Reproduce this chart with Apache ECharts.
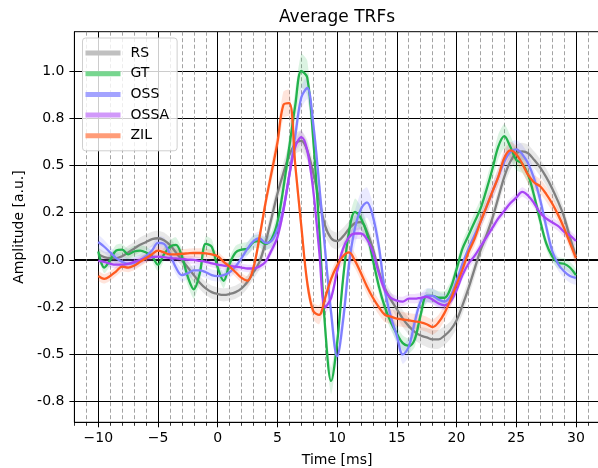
<!DOCTYPE html>
<html><head><meta charset="utf-8">
<script src="https://cdn.jsdelivr.net/npm/echarts@6/dist/echarts.min.js"></script>
<style>html,body{margin:0;padding:0;background:#fff}#c{width:598px;height:468px}</style>
</head><body><div id="c"></div>
<script>
// time axis (ms), 0.5 ms sampling
const timeMs = [
 -10,-9.5,-9,-8.5,-8,-7.5,-7,-6.5,-6,-5.5,
 -5,-4.5,-4,-3.5,-3,-2.5,-2,-1.5,-1,-0.5,
 0,0.5,1,1.5,2,2.5,3,3.5,4,4.5,
 5,5.5,6,6.5,7,7.5,8,8.5,9,9.5,
 10,10.5,11,11.5,12,12.5,13,13.5,14,14.5,
 15,15.5,16,16.5,17,17.5,18,18.5,19,19.5,
 20,20.5,21,21.5,22,22.5,23,23.5,24,24.5,
 25,25.5,26,26.5,27,27.5,28,28.5,29,29.5,30];

const seriesNames = ['RS','GT','OSS','OSSA','ZIL'];

const rsMean = [
 0.03,0.015,0.01,0.01,0.02,0.04,0.06,0.08,0.095,0.11,
 0.115,0.105,0.08,0.04,0.0,-0.04,-0.08,-0.12,-0.15,-0.17,
 -0.18,-0.185,-0.18,-0.17,-0.15,-0.115,-0.065,-0.01,0.09,0.22,
 0.35,0.46,0.555,0.615,0.63,0.58,0.46,0.32,0.18,0.115,
 0.1,0.125,0.165,0.195,0.2,0.15,0.06,-0.06,-0.15,-0.21,
 -0.26,-0.31,-0.35,-0.38,-0.4,-0.41,-0.42,-0.42,-0.4,-0.37,
 -0.32,-0.24,-0.15,-0.05,0.05,0.13,0.22,0.33,0.44,0.52,
 0.565,0.575,0.565,0.53,0.49,0.44,0.38,0.31,0.23,0.12,0.02];
const gtMean = [
 0.045,-0.04,0.0,0.05,0.055,0.03,0.045,0.05,0.04,0.02,
 -0.025,0.03,0.07,0.08,0.02,-0.09,-0.155,-0.07,0.085,0.07,
 -0.04,-0.11,-0.02,0.04,0.055,0.06,0.095,0.1,0.085,0.11,
 0.2,0.38,0.6,0.82,1.0,0.965,0.64,0.17,-0.36,-0.64,
 -0.44,-0.1,0.15,0.255,0.22,0.14,0.0,-0.14,-0.25,-0.33,
 -0.39,-0.44,-0.455,-0.42,-0.29,-0.19,-0.19,-0.2,-0.2,-0.15,
 -0.05,0.06,0.13,0.2,0.27,0.37,0.48,0.6,0.655,0.6,
 0.53,0.51,0.45,0.34,0.21,0.09,0.02,-0.015,-0.02,-0.04,-0.08];
const ossMean = [
 0.095,0.07,0.04,0.01,-0.01,-0.02,-0.015,0.0,0.02,0.05,
 0.09,0.085,0.03,-0.04,-0.08,-0.07,-0.055,-0.055,-0.065,-0.08,
 -0.085,-0.08,-0.065,-0.035,0.01,0.06,0.1,0.115,0.09,0.1,
 0.16,0.27,0.45,0.66,0.86,0.91,0.72,0.4,0.05,-0.28,
 -0.51,-0.32,-0.02,0.17,0.27,0.305,0.23,0.07,-0.16,-0.3,
 -0.4,-0.5,-0.46,-0.33,-0.22,-0.19,-0.19,-0.21,-0.22,-0.19,
 -0.11,-0.02,0.06,0.13,0.2,0.28,0.36,0.44,0.52,0.57,
 0.585,0.56,0.51,0.43,0.32,0.18,0.05,-0.02,-0.06,-0.085,-0.095];
const ossaMean = [
 -0.005,-0.01,-0.02,-0.025,-0.025,-0.02,-0.01,0.0,0.01,0.015,
 0.018,0.015,0.01,0.008,0.005,0.002,0.0,-0.005,-0.01,-0.018,
 -0.025,-0.03,-0.032,-0.035,-0.04,-0.045,-0.045,-0.035,-0.01,0.05,
 0.12,0.26,0.45,0.6,0.65,0.58,0.37,0.05,-0.25,-0.2,
 -0.06,0.06,0.12,0.14,0.14,0.11,0.04,-0.07,-0.16,-0.2,
 -0.215,-0.22,-0.205,-0.205,-0.2,-0.195,-0.21,-0.23,-0.24,-0.22,
 -0.16,-0.08,-0.02,0.02,0.07,0.12,0.17,0.22,0.26,0.3,
 0.33,0.36,0.34,0.3,0.25,0.22,0.2,0.18,0.15,0.13,0.1];
const zilMean = [
 -0.085,-0.1,-0.085,-0.06,-0.035,-0.04,-0.03,-0.01,0.01,0.03,
 0.05,0.04,0.03,0.03,0.033,0.035,0.037,0.037,0.035,0.03,
 0.02,-0.01,-0.035,-0.065,-0.095,-0.11,-0.04,0.12,0.3,0.46,
 0.62,0.82,0.83,0.5,0.18,-0.12,-0.27,-0.29,-0.2,-0.1,
 -0.03,0.02,0.04,-0.005,-0.07,-0.14,-0.2,-0.25,-0.29,-0.3,
 -0.31,-0.315,-0.32,-0.325,-0.33,-0.34,-0.355,-0.33,-0.28,-0.21,
 -0.13,-0.05,0.04,0.11,0.2,0.28,0.36,0.44,0.54,0.58,
 0.56,0.51,0.45,0.41,0.39,0.35,0.3,0.24,0.17,0.09,0.01];

// half-widths of the shaded error bands
const rsErr = [
 0.03,0.03,0.03,0.03,0.03,0.035,0.035,0.04,0.04,0.04,
 0.04,0.04,0.04,0.035,0.035,0.035,0.035,0.035,0.035,0.035,
 0.035,0.035,0.035,0.035,0.035,0.035,0.035,0.04,0.045,0.05,
 0.05,0.055,0.055,0.055,0.055,0.055,0.055,0.05,0.05,0.045,
 0.045,0.045,0.04,0.04,0.04,0.04,0.04,0.04,0.04,0.04,
 0.045,0.045,0.045,0.045,0.045,0.05,0.05,0.05,0.05,0.045,
 0.045,0.045,0.045,0.045,0.045,0.045,0.045,0.045,0.045,0.045,
 0.045,0.045,0.045,0.045,0.045,0.045,0.045,0.045,0.04,0.04,0.04];
const gtErr = [
 0.03,0.03,0.03,0.03,0.03,0.03,0.03,0.03,0.03,0.03,
 0.035,0.035,0.035,0.04,0.04,0.045,0.05,0.045,0.04,0.04,
 0.04,0.04,0.035,0.035,0.035,0.035,0.035,0.035,0.035,0.04,
 0.05,0.06,0.07,0.08,0.09,0.09,0.07,0.06,0.06,0.07,
 0.06,0.05,0.06,0.07,0.06,0.05,0.045,0.04,0.04,0.04,
 0.04,0.04,0.04,0.04,0.035,0.035,0.035,0.035,0.035,0.035,
 0.035,0.04,0.045,0.05,0.05,0.055,0.06,0.065,0.065,0.06,
 0.055,0.05,0.045,0.04,0.035,0.03,0.03,0.03,0.03,0.03,0.03];
const ossErr = [
 0.035,0.035,0.03,0.03,0.03,0.03,0.03,0.03,0.03,0.03,
 0.035,0.035,0.035,0.035,0.035,0.03,0.03,0.03,0.03,0.03,
 0.03,0.03,0.03,0.03,0.03,0.035,0.035,0.035,0.035,0.035,
 0.04,0.045,0.05,0.06,0.06,0.06,0.06,0.06,0.06,0.06,
 0.06,0.07,0.08,0.09,0.09,0.08,0.07,0.06,0.05,0.05,
 0.05,0.05,0.05,0.045,0.04,0.04,0.04,0.04,0.04,0.04,
 0.04,0.04,0.04,0.04,0.04,0.045,0.045,0.05,0.05,0.05,
 0.05,0.05,0.05,0.045,0.045,0.04,0.04,0.035,0.035,0.035,0.035];
const ossaErr = [
 0.02,0.02,0.02,0.02,0.02,0.02,0.02,0.02,0.02,0.02,
 0.02,0.02,0.02,0.02,0.02,0.02,0.02,0.02,0.02,0.02,
 0.02,0.02,0.02,0.02,0.02,0.02,0.02,0.02,0.025,0.025,
 0.03,0.03,0.035,0.035,0.035,0.035,0.03,0.03,0.03,0.03,
 0.03,0.03,0.03,0.03,0.03,0.025,0.025,0.025,0.025,0.025,
 0.025,0.025,0.025,0.025,0.025,0.025,0.025,0.025,0.025,0.025,
 0.025,0.025,0.025,0.025,0.025,0.025,0.025,0.025,0.025,0.025,
 0.025,0.025,0.025,0.025,0.025,0.025,0.025,0.025,0.025,0.025,0.025];
const zilErr = [
 0.025,0.025,0.025,0.025,0.025,0.025,0.025,0.025,0.025,0.025,
 0.025,0.025,0.025,0.025,0.025,0.025,0.025,0.025,0.025,0.025,
 0.025,0.025,0.025,0.025,0.025,0.025,0.025,0.03,0.04,0.05,
 0.06,0.07,0.07,0.06,0.05,0.045,0.045,0.05,0.045,0.04,
 0.04,0.04,0.04,0.04,0.04,0.04,0.04,0.04,0.04,0.04,
 0.04,0.04,0.04,0.04,0.04,0.04,0.04,0.04,0.04,0.04,
 0.04,0.04,0.04,0.04,0.04,0.045,0.045,0.045,0.045,0.045,
 0.045,0.045,0.045,0.04,0.04,0.04,0.04,0.035,0.035,0.035,0.035];

const xTickValues = [-10,-5,0,5,10,15,20,25,30];
const xTickLabels = ['\u221210','\u22125','0','5','10','15','20','25','30'];
const yTickValues = [-0.75,-0.5,-0.25,0,0.25,0.5,0.75,1.0];
const yTickLabels = ['-0.8','-0.5','-0.2','0.0','0.2','0.5','0.8','1.0'];

const lineColors = ['#808080','#22b24c','#7f7fff','#a845f5','#ff5a1f'];
const bandColors = ['rgba(128,128,128,0.18)','rgba(34,178,76,0.16)','rgba(127,127,255,0.16)','rgba(168,69,245,0.16)','rgba(255,90,31,0.16)'];
const legendColors = ['#c0c0c0','#77d68f','#a3a3ff','#d199fa','#ff9c78'];

const means = [rsMean, gtMean, ossMean, ossaMean, zilMean];
const errs = [rsErr, gtErr, ossErr, ossaErr, zilErr];

const FONT = 'DejaVu Sans';
function lookup(vals, labels, v){
  for (let i=0;i<vals.length;i++){ if (Math.abs(vals[i]-v) < 1e-6) return labels[i]; }
  return '';
}

const series = [];
seriesNames.forEach(function(name, k){
  const mean = means[k], err = errs[k];
  series.push({
    type:'custom', name: name + ' band', silent:true, z:2,
    xAxisIndex:0, yAxisIndex:0,
    data: timeMs.map(function(t,i){ return [t, mean[i]-err[i], mean[i]+err[i]]; }),
    encode:{x:0, y:[1,2]},
    renderItem: function(params, api){
      if (params.dataIndex !== 0) return null;
      const up = [], lo = [];
      for (let i=0;i<timeMs.length;i++){
        up.push(api.coord([timeMs[i], mean[i]+err[i]]));
        lo.push(api.coord([timeMs[i], mean[i]-err[i]]));
      }
      return {type:'polygon', shape:{points: up.concat(lo.reverse()), smooth:0.2},
              style:{fill: bandColors[k], stroke:'none'}};
    }
  });
  series.push({
    type:'line', name: name, z:2, silent:true, xAxisIndex:0, yAxisIndex:0,
    data: timeMs.map(function(t,i){ return [t, mean[i]]; }),
    showSymbol:false, symbol:'none', smooth:0.35,
    lineStyle:{width:2.3, color: lineColors[k]},
    itemStyle:{color: lineColors[k]}
  });
});

const chart = echarts.init(document.getElementById('c'), null, {renderer:'canvas'});
chart.setOption({
  animation:false,
  backgroundColor:'#fff',
  textStyle:{fontFamily: FONT},
  title:{text:'Average TRFs', left:337, top:9, textAlign:'center', padding:0,
         textStyle:{fontFamily:FONT, fontSize:17, fontWeight:'normal', color:'#000'}},
  legend:{
    orient:'vertical', left:82.5, top:38, padding:[8,8,8,3], itemGap:6.7,
    itemWidth:35, itemHeight:5, icon:'rect',
    backgroundColor:'rgba(255,255,255,0.8)', borderColor:'#cfcfcf', borderWidth:1, borderRadius:3,
    textStyle:{fontFamily:FONT, fontSize:14, color:'#000', padding:[0,0,0,5]},
    data: seriesNames.map(function(n,k){ return {name:n, itemStyle:{color: legendColors[k]}}; })
  },
  grid:{left:74.4, right:-1.8, top:31.7, bottom:45.7, containLabel:false, outerBoundsMode:'none',
        show:true, borderColor:'#000', borderWidth:1, backgroundColor:'transparent'},
  xAxis:[
    {type:'value', min:-12, max:32, interval:1, position:'bottom',
     axisLine:{show:true, onZero:false, lineStyle:{color:'#000', width:1}},
     axisTick:{show:true, length:3.5, lineStyle:{color:'#000', width:0.8}},
     axisLabel:{show:false},
     splitLine:{show:true, lineStyle:{color:'#8c8c8c', width:0.8, type:[4,2.5]}}},
    {type:'value', min:-12, max:32, position:'bottom',
     axisLine:{show:false, onZero:false},
     axisTick:{show:true, length:5, customValues: xTickValues, lineStyle:{color:'#000', width:1}},
     axisLabel:{show:true, customValues: xTickValues, margin:9, fontSize:14, color:'#000', fontFamily:FONT,
       formatter:function(v){ return lookup(xTickValues, xTickLabels, v); }},
     splitLine:{show:true, lineStyle:{color:'#000', width:1}},
     name:'Time [ms]', nameLocation:'middle', nameGap:31,
     nameTextStyle:{fontSize:14, color:'#000', fontFamily:FONT}}
  ],
  yAxis:[
    {type:'value', min:-0.859, max:1.208, position:'left',
     axisLine:{show:true, onZero:false, lineStyle:{color:'#000', width:1}},
     axisTick:{show:true, length:5, customValues: yTickValues, lineStyle:{color:'#000', width:1}},
     axisLabel:{show:true, customValues: yTickValues, margin:10, fontSize:14, color:'#000', fontFamily:FONT,
       formatter:function(v){ return lookup(yTickValues, yTickLabels, v); }},
     splitLine:{show:true, lineStyle:{color:'#000', width:1}},
     name:'Amplitude [a.u.]', nameLocation:'middle', nameGap:42,
     nameTextStyle:{fontSize:14, color:'#000', fontFamily:FONT}},
    {type:'value', min:-0.859, max:1.208, position:'left',
     axisLine:{show:false}, axisTick:{show:false, customValues:[0]}, axisLabel:{show:false, customValues:[0]},
     splitLine:{show:true, lineStyle:{color:'#000', width:2}}}
  ],
  series: series
});
</script>
</body></html>
